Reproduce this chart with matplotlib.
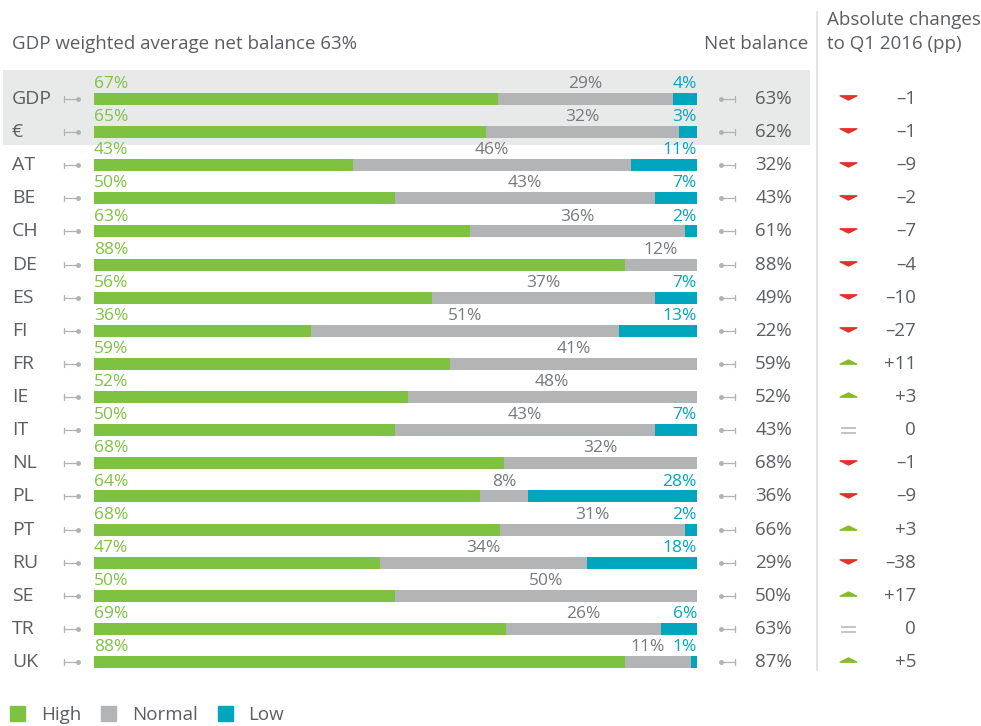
import matplotlib
matplotlib.use("Agg")
import matplotlib.pyplot as plt
from matplotlib.patches import Patch, Rectangle
from matplotlib.path import Path

plt.rcParams["font.family"] = ["Open Sans", "DejaVu Sans"]

# data
countries = ["GDP", "€", "AT", "BE", "CH", "DE", "ES", "FI", "FR", "IE",
             "IT", "NL", "PL", "PT", "RU", "SE", "TR", "UK"]
high = [67, 65, 43, 50, 63, 88, 56, 36, 59, 52, 50, 68, 64, 68, 47, 50, 69, 88]
normal = [29, 32, 46, 43, 36, 12, 37, 51, 41, 48, 43, 32, 8, 31, 34, 50, 26, 11]
low = [4, 3, 11, 7, 2, 0, 7, 13, 0, 0, 7, 0, 28, 2, 18, 0, 6, 1]
net_balance = [63, 62, 32, 43, 61, 88, 49, 22, 59, 52, 43, 68, 36, 66, 29, 50, 63, 87]
changes = [-1, -1, -9, -2, -7, -4, -10, -27, 11, 3, 0, -1, -9, 3, -38, 17, 0, 5]
weighted_avg = 63

GREEN = "#7fc241"
GREY = "#b2b4b5"
TEAL = "#00a6bd"
TEXT = "#5a5e62"
ARROW = "#b0b2b3"
RED = "#e2312b"
UPGREEN = "#86bc25"

W, H = 981, 726
fig = plt.figure(figsize=(W / 100, H / 100), dpi=100)

# rows: row i sits at pixel 99 + 33.12*i
row_h = 33.12
y0 = 99
top = -y0 / row_h
bottom = (H - y0) / row_h


def py(p):
    # pixel height -> row units
    return (p - y0) / row_h


ax = fig.add_axes([0, 0, 1, 1])
ax.set_xlim(0, W)
ax.set_ylim(bottom, top)
ax.axis("off")

bx = fig.add_axes([94 / W, 0, 603 / W, 1])
bx.set_xlim(0, 100)
bx.set_ylim(bottom, top)
bx.axis("off")
bx.patch.set_alpha(0)

# shaded band for GDP and euro rows
ax.add_patch(Rectangle((3, py(70)), 807, py(145) - py(70), color="#e8eaea", lw=0, zorder=0))
# separator line
ax.plot([817, 817], [py(12), py(670)], color="#dcdedf", lw=1.2, zorder=1)

rows = list(range(len(countries)))
totals = [h + n + l for h, n, l in zip(high, normal, low)]
high_w = [h / t * 100 for h, t in zip(high, totals)]
normal_w = [n / t * 100 for n, t in zip(normal, totals)]
low_w = [l / t * 100 for l, t in zip(low, totals)]
left_low = [h + n for h, n in zip(high_w, normal_w)]

bh = 12 / row_h
bx.barh(rows, high_w, height=bh, color=GREEN, lw=0)
bx.barh(rows, normal_w, left=high_w, height=bh, color=GREY, lw=0)
bx.barh(rows, low_w, left=left_low, height=bh, color=TEAL, lw=0)

tri_down = Path([(-1, 0.2), (1, 0.2), (0, -0.3), (-1, 0.2)], closed=True)
tri_up = Path([(-1, -0.2), (1, -0.2), (0, 0.3), (-1, -0.2)], closed=True)

pairs = []
for i, c in enumerate(countries):
    ax.text(12, i, c, fontsize=14, color=TEXT, va="center", ha="left")
    # small arrows
    ax.plot([64, 78], [i, i], color=ARROW, lw=0.9)
    ax.plot([78], [i], "o", color=ARROW, ms=2.5)
    ax.plot([64, 64], [i - 0.08, i + 0.08], color=ARROW, lw=0.9)
    ax.plot([721, 735], [i, i], color=ARROW, lw=0.9)
    ax.plot([721], [i], "o", color=ARROW, ms=2.5)
    ax.plot([735, 735], [i - 0.08, i + 0.08], color=ARROW, lw=0.9)

    ly = i - 0.45
    bx.text(0, ly, f"{high[i]}%", color=GREEN, fontsize=12.5, ha="left", va="center")
    tn = tl = None
    if normal[i]:
        tn = bx.text(high_w[i] + normal_w[i] / 2, ly, f"{normal[i]}%", color="#75797c",
                     fontsize=12.5, ha="center", va="center")
    if low[i]:
        tl = bx.text(100, ly, f"{low[i]}%", color=TEAL, fontsize=12.5, ha="right", va="center")
    if tn is not None and tl is not None:
        pairs.append((tn, tl))

    ax.text(792, i, f"{net_balance[i]}%", fontsize=13.5, color=TEXT, ha="right", va="center")

    ch = changes[i]
    if ch < 0:
        ax.plot([848], [i - 0.05], marker=tri_down, color=RED, ms=12, lw=0)
        label = f"–{abs(ch)}"
    elif ch > 0:
        ax.plot([848], [i - 0.05], marker=tri_up, color=UPGREEN, ms=12, lw=0)
        label = f"+{ch}"
    else:
        ax.plot([842, 855], [i - 0.07, i - 0.07], color="#bcbebf", lw=1.3)
        ax.plot([842, 855], [i + 0.09, i + 0.09], color="#bcbebf", lw=1.3)
        label = "0"
    ax.text(916, i, label, fontsize=13.5, color=TEXT, ha="right", va="center")

# headers
ax.text(12, py(44), f"GDP weighted average net balance {weighted_avg}%",
        fontsize=13.5, color=TEXT, ha="left", va="center")
ax.text(808, py(44), "Net balance", fontsize=13.5, color=TEXT, ha="right", va="center")
ax.text(827, py(20), "Absolute changes", fontsize=13.5, color=TEXT, ha="left", va="center")
ax.text(827, py(44), "to Q1 2016 (pp)", fontsize=13.5, color=TEXT, ha="left", va="center")

handles = [Patch(color=GREEN, label="High"), Patch(color=GREY, label="Normal"),
           Patch(color=TEAL, label="Low")]
leg = fig.legend(handles=handles, loc="center left", bbox_to_anchor=(0.0, 11 / H),
                 ncol=3, frameon=False, fontsize=13.5, handlelength=0.8,
                 handleheight=0.8, handletextpad=0.85, columnspacing=1.05,
                 borderaxespad=0.15)
for t in leg.get_texts():
    t.set_color(TEXT)

# keep the normal label clear of the low label when segments are narrow
fig.canvas.draw()
r = fig.canvas.get_renderer()
inv = bx.transData.inverted()
for tn, tl in pairs:
    bn = tn.get_window_extent(r)
    bl = tl.get_window_extent(r)
    gap = 8
    if bn.x1 > bl.x0 - gap:
        shift = bn.x1 - (bl.x0 - gap)
        x, yy = tn.get_position()
        xd = inv.transform((bx.transData.transform((x, yy))[0] - shift, 0))[0]
        tn.set_x(xd)

fig.savefig("out.png", dpi=100)
